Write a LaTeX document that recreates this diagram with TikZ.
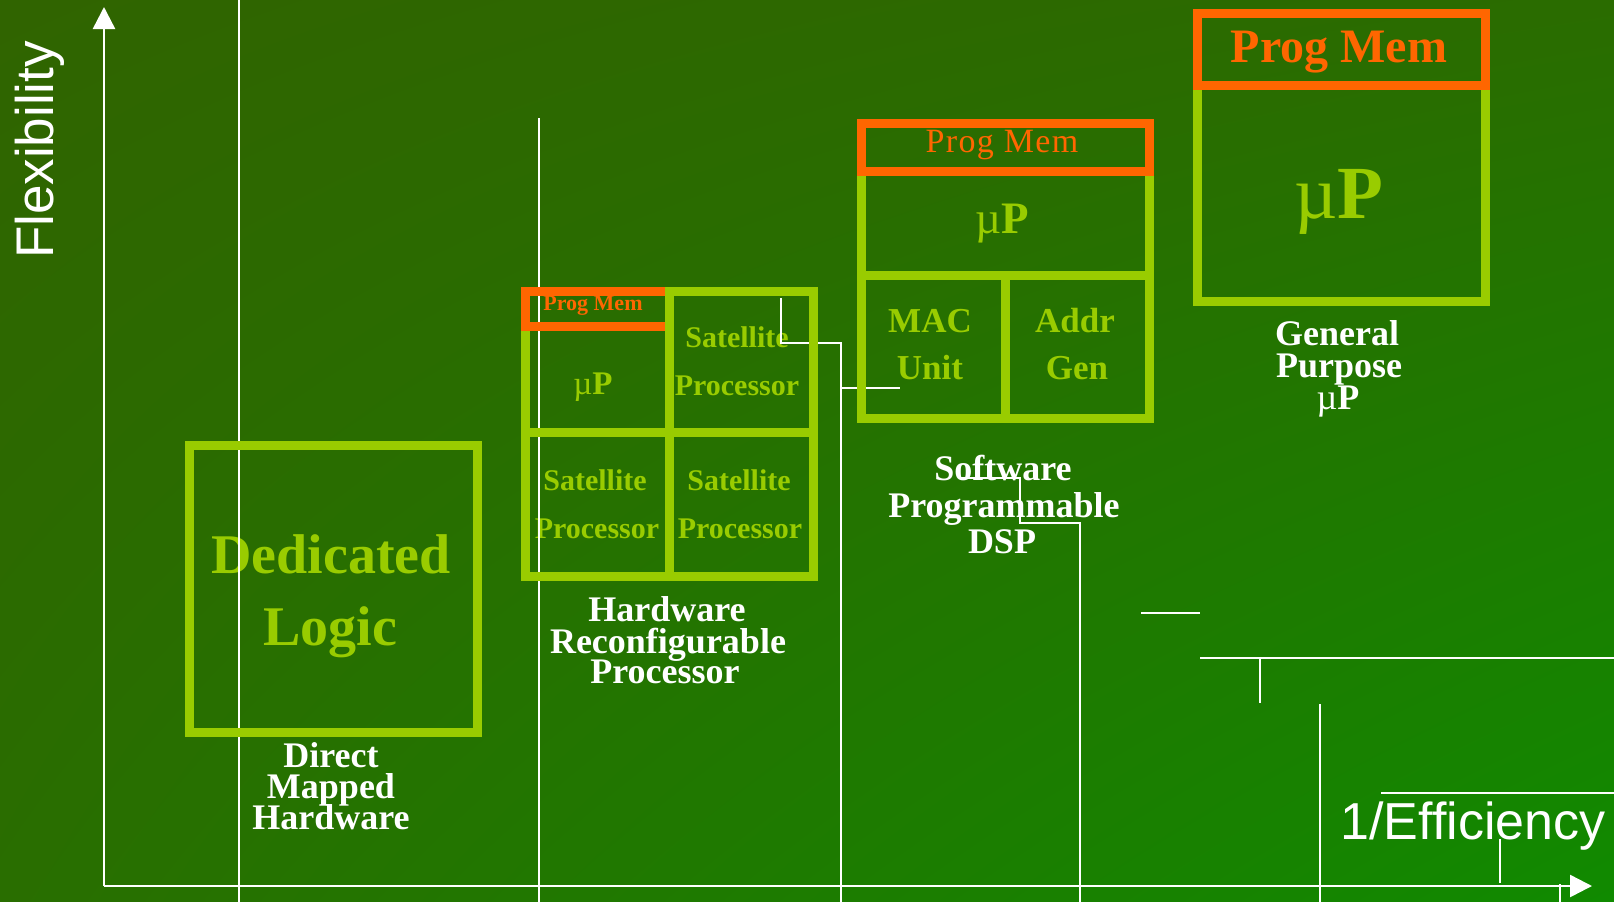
\documentclass[tikz,border=0pt]{standalone}
\usepackage{fontspec}
\setmainfont{Liberation Serif}
\setsansfont{Liberation Sans}
\usetikzlibrary{arrows.meta,shadings}
\definecolor{lime}{HTML}{99CC00}
\definecolor{org}{HTML}{FF6600}
\definecolor{bgul}{HTML}{306400}
\definecolor{bgur}{HTML}{2A6C00}
\definecolor{bgll}{HTML}{296E00}
\definecolor{bglr}{HTML}{108A00}
\newcommand\fsz[1]{\fontsize{#1}{#1}\selectfont}
\tikzset{
  txt/.style={inner sep=0pt, outer sep=0pt, anchor=base},
  wlbl/.style={txt, text=white, font=\bfseries\fsz{36}},
  glbl/.style={txt, text=lime, font=\bfseries\fsz{#1}},
  olbl/.style={txt, text=org, font=\bfseries\fsz{#1}},
  stray/.style={draw=white, line width=1.3pt},
  gbox/.style={draw=lime, line width=9pt},
  obox/.style={draw=org, line width=9pt},
  axis/.style={draw=white, line width=2.5pt, -{Triangle[length=22pt,width=22pt]}},
  axlbl/.style={txt, text=white, font=\sffamily\fsz{53}}
}
\begin{document}
\begin{tikzpicture}[x=1pt,y=-1pt]
\useasboundingbox (0,0) rectangle (1614,902);
\shade[upper left=bgul, upper right=bgur, lower left=bgll, lower right=bglr] (0,0) rectangle (1614,902);

% axes
\coordinate (O) at (104,886);
\coordinate (ytip) at (104,7);
\coordinate (xtip) at (1592,886);
\draw[axis] (O) -- (ytip);
\draw[axis] (O) -- (xtip);
\node[axlbl, rotate=90] (flex) at (53,150) {Flexibility};
\node[txt, text=white, font=\sffamily\fsz{52}] (eff) at (1473,839) {1/Efficiency};

% ---- texts ----
% Dedicated logic
\node[glbl=56] (ded) at (331,573) {Dedicated};
\node[glbl=56] (logic) at (330,645) {Logic};
\node[wlbl] (dmh1) at (331,767) {Direct};
\node[wlbl] (dmh2) at (331,798) {Mapped};
\node[wlbl] (dmh3) at (331,829) {Hardware};

% Hardware reconfigurable
\node[olbl=22] (hpm) at (593,310) {Prog Mem};
\node[txt, text=lime, font=\fsz{33}] (hup) at (593,394) {µ\textbf{P}};
\node[glbl=30] (s1a) at (737,347) {Satellite};
\node[glbl=30] (s1b) at (737,395) {Processor};
\node[glbl=30] (s2a) at (595,490) {Satellite};
\node[glbl=30] (s2b) at (597,538) {Processor};
\node[glbl=30] (s3a) at (739,490) {Satellite};
\node[glbl=30] (s3b) at (740,538) {Processor};
\node[wlbl] (hrp1) at (667,621) {Hardware};
\node[wlbl] (hrp2) at (668,653) {Reconfigurable};
\node[wlbl] (hrp3) at (665,683) {Processor};

% DSP
\node[txt, text=org, font=\fsz{34}\addfontfeature{LetterSpace=4}] (dpm) at (1002,152) {Prog Mem};
\node[txt, text=lime, font=\fsz{45}] (dup) at (1002,233) {µ\textbf{P}};
\node[glbl=35] (mac1) at (930,332) {MAC};
\node[glbl=35] (mac2) at (930,379) {Unit};
\node[glbl=35] (ag1) at (1075,332) {Addr};
\node[glbl=35] (ag2) at (1077,379) {Gen};
\node[wlbl] (sp1) at (1003,480) {Software};
\node[wlbl] (sp2) at (1004,517) {Programmable};
\node[wlbl] (sp3) at (1002,553) {DSP};

% General purpose
\node[olbl=48] (gpm) at (1339,62) {Prog Mem};
\node[txt, text=lime, font=\fsz{75}] (gup) at (1339,218) {µ\textbf{P}};
\node[wlbl] (gp1) at (1337,345) {General};
\node[wlbl] (gp2) at (1339,377) {Purpose};
\node[txt, text=white, font=\fsz{36}] (gp3) at (1338,409) {µ\textbf{P}};

% ---- thin white lines ----
\draw[stray] (239,0) -- (239,902);
\draw[stray] (539,118) -- (539,902);
\draw[stray] (781,298) -- (781,343) -- (841,343) -- (841,902);
\draw[stray] (841,388) -- (900,388);
\draw[stray] (960,478) -- (1020,478) -- (1020,523) -- (1080,523) -- (1080,902);
\draw[stray] (1141,613) -- (1200,613);
\draw[stray] (1200,658) -- (1614,658);
\draw[stray] (1260,658) -- (1260,703);
\draw[stray] (1320,704) -- (1320,902);
\draw[stray] (1381,793) -- (1614,793);
\draw[stray] (1500,839) -- (1500,883);
\draw[stray] (1560,884) -- (1560,902);

% ---- boxes ----
\draw[gbox] (189.5,445.5) rectangle (477.5,732.5);

\draw[gbox] (525.5,291.5) rectangle (813.5,576.5);
\draw[gbox] (525.5,432.5) -- (813.5,432.5);
\draw[obox] (525.5,291.5) rectangle (669.5,326);
\draw[gbox] (669.5,287) -- (669.5,581);

\draw[gbox] (861.5,123.5) rectangle (1149.5,418.5);
\draw[gbox] (861.5,275.5) -- (1149.5,275.5);
\draw[gbox] (1005.5,275.5) -- (1005.5,418.5);
\draw[obox] (861.5,123.5) rectangle (1149.5,171.5);

\draw[gbox] (1197.5,13.5) rectangle (1485.5,301.5);
\draw[obox] (1197.5,13.5) rectangle (1485.5,85.5);
\end{tikzpicture}
\end{document}
